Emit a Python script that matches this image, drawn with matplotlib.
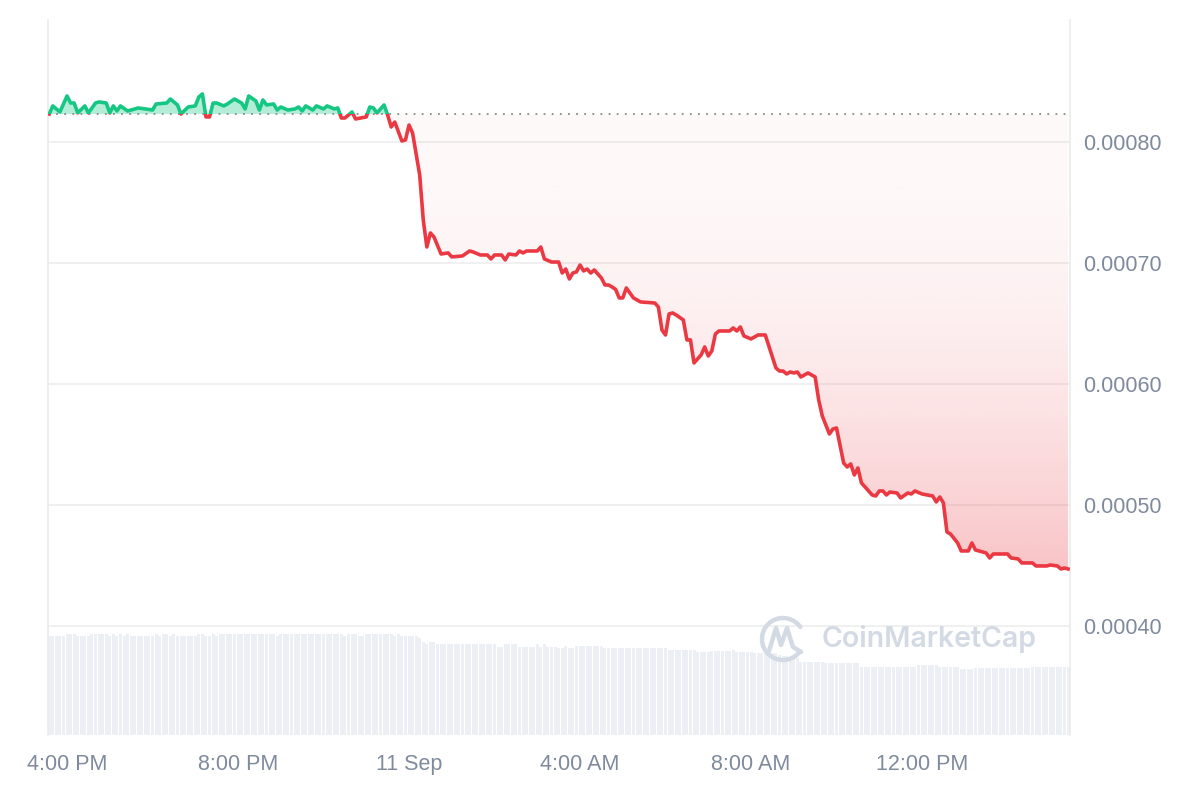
import matplotlib.pyplot as plt
import numpy as np
from matplotlib.patches import Rectangle
from matplotlib.path import Path

plt.rcParams['font.family'] = ['Liberation Sans', 'DejaVu Sans']

# price, minutes after 4:00 PM (10 Sep)
minutes = [
    -25, -20, -10, 0, 5, 10, 15, 25, 30, 40, 45, 55, 60, 65, 70, 75, 85, 100,
    110, 120, 125, 140, 145, 155, 160, 170, 180, 185, 190, 195, 200, 205, 210,
    220, 225, 235, 245, 250, 255, 265, 270, 275, 280, 290, 295, 300, 310, 320,
    325, 330, 335, 345, 350, 360, 365, 375, 380, 385, 390, 400, 405, 420, 425,
    430, 435, 445, 450, 455, 460, 470, 475, 480, 485, 495, 500, 505, 510, 515,
    525, 535, 540, 555, 565, 570, 580, 590, 595, 600, 610, 615, 620, 630, 635,
    640, 645, 660, 665, 670, 680, 690, 695, 700, 705, 710, 715, 720, 725, 730,
    735, 740, 750, 755, 760, 765, 770, 775, 780, 785, 795, 805, 825, 830, 835,
    840, 845, 850, 855, 865, 870, 875, 880, 890, 895, 900, 905, 910, 915, 930,
    935, 940, 945, 950, 960, 970, 980, 995, 1000, 1005, 1010, 1015, 1020, 1025,
    1030, 1040, 1050, 1055, 1060, 1070, 1075, 1080, 1090, 1095, 1100, 1105,
    1110, 1115, 1130, 1135, 1140, 1145, 1150, 1155, 1165, 1170, 1180, 1185,
    1190, 1200, 1215, 1220, 1225, 1230, 1235, 1240, 1250, 1255, 1265, 1270,
    1275, 1285, 1290, 1295, 1300, 1320, 1325, 1335, 1340, 1355, 1360, 1375,
    1380, 1390, 1395, 1400, 1405,
]
price = [
    .0008231, .0008298, .0008248, .0008380, .0008322, .0008322, .0008240,
    .0008298, .0008240, .0008322, .0008331, .0008322, .0008240, .0008298,
    .0008256, .0008298, .0008256, .0008281, .0008273, .0008264, .0008314,
    .0008322, .0008355, .0008306, .0008231, .0008289, .0008298, .0008372,
    .0008397, .0008207, .0008207, .0008322, .0008322, .0008298, .0008314,
    .0008355, .0008322, .0008273, .0008380, .0008339, .0008264, .0008347,
    .0008306, .0008314, .0008264, .0008289, .0008264, .0008273, .0008289,
    .0008256, .0008298, .0008264, .0008298, .0008273, .0008298, .0008273,
    .0008281, .0008198, .0008198, .0008248, .0008190, .0008207, .0008289,
    .0008281, .0008240, .0008306, .0008223, .0008124, .0008165, .0008008,
    .0008017, .0008140, .0008074, .0007727, .0007355, .0007132, .0007248,
    .0007215, .0007074, .0007083, .0007050, .0007058, .0007099, .0007091,
    .0007066, .0007066, .0007033, .0007066, .0007066, .0007025, .0007074,
    .0007066, .0007099, .0007083, .0007099, .0007099, .0007132, .0007033,
    .0007008, .0007008, .0006917, .0006950, .0006868, .0006917, .0006926,
    .0006983, .0006934, .0006950, .0006917, .0006942, .0006876, .0006818,
    .0006818, .0006802, .0006781, .0006711, .0006711, .0006793, .0006711,
    .0006678, .0006669, .0006636, .0006446, .0006405, .0006579, .0006587,
    .0006570, .0006529, .0006364, .0006364, .0006174, .0006240, .0006306,
    .0006231, .0006273, .0006413, .0006438, .0006438, .0006463, .0006438,
    .0006471, .0006397, .0006372, .0006405, .0006405, .0006132, .0006107,
    .0006107, .0006083, .0006099, .0006091, .0006099, .0006058, .0006091,
    .0006058, .0005868, .0005736, .0005587, .0005628, .0005636, .0005347,
    .0005314, .0005339, .0005248, .0005306, .0005182, .0005083, .0005074,
    .0005116, .0005116, .0005083, .0005107, .0005099, .0005058, .0005099,
    .0005091, .0005116, .0005091, .0005074, .0005025, .0005066, .0005017,
    .0004777, .0004760, .0004686, .0004620, .0004620, .0004686, .0004628,
    .0004612, .0004603, .0004562, .0004595, .0004595, .0004562, .0004554,
    .0004521, .0004521, .0004496, .0004496, .0004504, .0004496, .0004471,
    .0004479, .0004471,
]

# volume, one bar every 5 min starting at vol_start (relative units)
vol_start = -25
volume = [
    99, 99, 99, 99, 99, 101, 101, 101, 99, 99, 99, 99,
    101, 101, 101, 101, 101, 99, 101, 99, 101, 99, 101, 99,
    99, 99, 99, 99, 99, 99, 101, 99, 101, 101, 99, 101,
    99, 99, 99, 99, 99, 99, 101, 101, 99, 99, 101, 99,
    101, 101, 101, 101, 101, 101, 101, 101, 101, 101, 101, 101,
    101, 101, 101, 101, 99, 101, 101, 101, 101, 101, 101, 101,
    101, 101, 101, 101, 101, 101, 101, 101, 101, 101, 101, 99,
    101, 101, 101, 99, 99, 101, 101, 101, 101, 101, 101, 101,
    101, 99, 101, 99, 99, 99, 99, 99, 97, 93, 91, 93,
    93, 91, 91, 91, 91, 91, 91, 91, 91, 91, 91, 91,
    91, 91, 91, 91, 91, 91, 88, 88, 91, 91, 91, 91,
    88, 88, 88, 88, 88, 91, 88, 91, 88, 88, 88, 87,
    87, 89, 87, 87, 89, 89, 89, 89, 89, 89, 89, 89,
    87, 87, 87, 87, 87, 87, 87, 87, 87, 87, 87, 87,
    87, 87, 87, 87, 87, 87, 85, 85, 85, 85, 85, 85,
    85, 85, 83, 83, 83, 83, 84, 84, 84, 84, 84, 84,
    85, 83, 83, 83, 83, 83, 82, 82, 82, 82, 82, 82,
    82, 80, 79, 79, 77, 77, 77, 73, 73, 73, 73, 73,
    73, 73, 72, 72, 72, 72, 72, 72, 72, 72, 72, 72,
    68, 68, 68, 68, 68, 68, 68, 68, 68, 68, 68, 68,
    68, 68, 68, 68, 70, 70, 70, 70, 70, 70, 68, 68,
    68, 68, 68, 68, 66, 66, 66, 66, 67, 67, 67, 67,
    67, 67, 67, 67, 67, 67, 67, 67, 67, 67, 67, 67,
    68, 68, 68, 68, 68, 68, 68, 68, 68, 68, 68,
]

tick_pos = [0, 240, 480, 720, 960, 1200]
tick_labels = ['4:00 PM', '8:00 PM', '11 Sep', '4:00 AM', '8:00 AM', '12:00 PM']
y_ticks = [0.0004, 0.0005, 0.0006, 0.0007, 0.0008]

GREEN = '#16c784'
RED = '#ea3943'
LABEL = '#808a9d'

t = np.array(minutes, dtype=float)
p = np.array(price)
base = p[0]
xmin, xmax = -26.7, 1407.7
ymin, ymax = 0.0003099, 0.0009008

fig = plt.figure(figsize=(12, 8), dpi=100)
rect = [48 / 1200, 65 / 800, 1022 / 1200, 715 / 800]

# volume in the back
axv = fig.add_axes(rect)
vt = vol_start + 5 * np.arange(len(volume))
axv.bar(vt, volume, width=4.2, color='#eceff3', align='center', linewidth=0)
axv.set_xlim(xmin, xmax)
axv.set_ylim(0, max(volume) * 7.1)
axv.axis('off')

ax = fig.add_axes(rect, facecolor='none')
ax.set_xlim(xmin, xmax)
ax.set_ylim(ymin, ymax)

for yv in y_ticks:
    ax.axhline(yv, color='#eeeeee', lw=1.2, zorder=0)

# green area above the opening price
ax.fill_between(t, p, base, where=p >= base, interpolate=True,
                color=GREEN, alpha=0.32, linewidth=0, zorder=1)

# red area below, gradient getting stronger downwards
red_poly = ax.fill_between(t, p, base, where=p <= base, interpolate=True,
                           color='none', linewidth=0)
n = 256
frac = np.linspace(0, 1, n)[:, None]
grad = np.zeros((n, 1, 4))
grad[..., 0], grad[..., 1], grad[..., 2] = 0xea / 255, 0x39 / 255, 0x43 / 255
grad[..., 3] = 0.03 + 0.27 * frac ** 2
im = ax.imshow(grad, extent=(xmin, xmax, p.min(), base), origin='upper',
               aspect='auto', zorder=1, interpolation='bilinear')
clip = Path.make_compound_path(*red_poly.get_paths())
im.set_clip_path(clip, ax.transData)
ax.set_xlim(xmin, xmax)
ax.set_ylim(ymin, ymax)

# dotted baseline
ax.axhline(base, color='#8a8a8a', lw=1.3, linestyle=(0, (1, 3.5)), zorder=2)

# price line, coloured by side of the baseline
up = Rectangle((xmin, base), xmax - xmin, ymax - base, transform=ax.transData)
dn = Rectangle((xmin, ymin), xmax - xmin, base - ymin, transform=ax.transData)
l1, = ax.plot(t, p, color=GREEN, lw=2.6, zorder=3, solid_joinstyle='round')
l1.set_clip_path(up)
l2, = ax.plot(t, p, color=RED, lw=2.6, zorder=3, solid_joinstyle='round')
l2.set_clip_path(dn)

for s in ['top', 'bottom']:
    ax.spines[s].set_visible(False)
for s in ['left', 'right']:
    ax.spines[s].set_color('#ebebeb')
    ax.spines[s].set_linewidth(1.2)

ax.yaxis.tick_right()
ax.set_yticks(y_ticks)
ax.set_yticklabels([f'{v:.5f}' for v in y_ticks])
ax.set_xticks(tick_pos)
ax.set_xticklabels(tick_labels)
ax.tick_params(axis='y', length=0, pad=9.4, labelsize=15.5, labelcolor=LABEL)
ax.tick_params(axis='x', length=0, pad=14, labelsize=15.5, labelcolor=LABEL)

# watermark
axw = fig.add_axes([0, 0, 1, 1], facecolor='none')
axw.set_xlim(0, 1200)
axw.set_ylim(800, 0)
axw.axis('off')
wm = '#d4dae4'
ang = np.radians(np.linspace(35, 325, 80))
axw.plot(783 + 21 * np.cos(ang), 639 - 21 * np.sin(ang), color=wm, lw=3.2,
         solid_capstyle='round')
axw.plot([769, 776, 781, 787, 793, 801], [651, 628, 645, 628, 647, 652],
         color=wm, lw=3.2, solid_capstyle='round', solid_joinstyle='round')
axw.text(822, 639, 'CoinMarketCap', color=wm, fontsize=20.5,
         family=['Inter', 'DejaVu Sans'], fontweight='semibold', va='center')

fig.savefig('out.png', dpi=100)
